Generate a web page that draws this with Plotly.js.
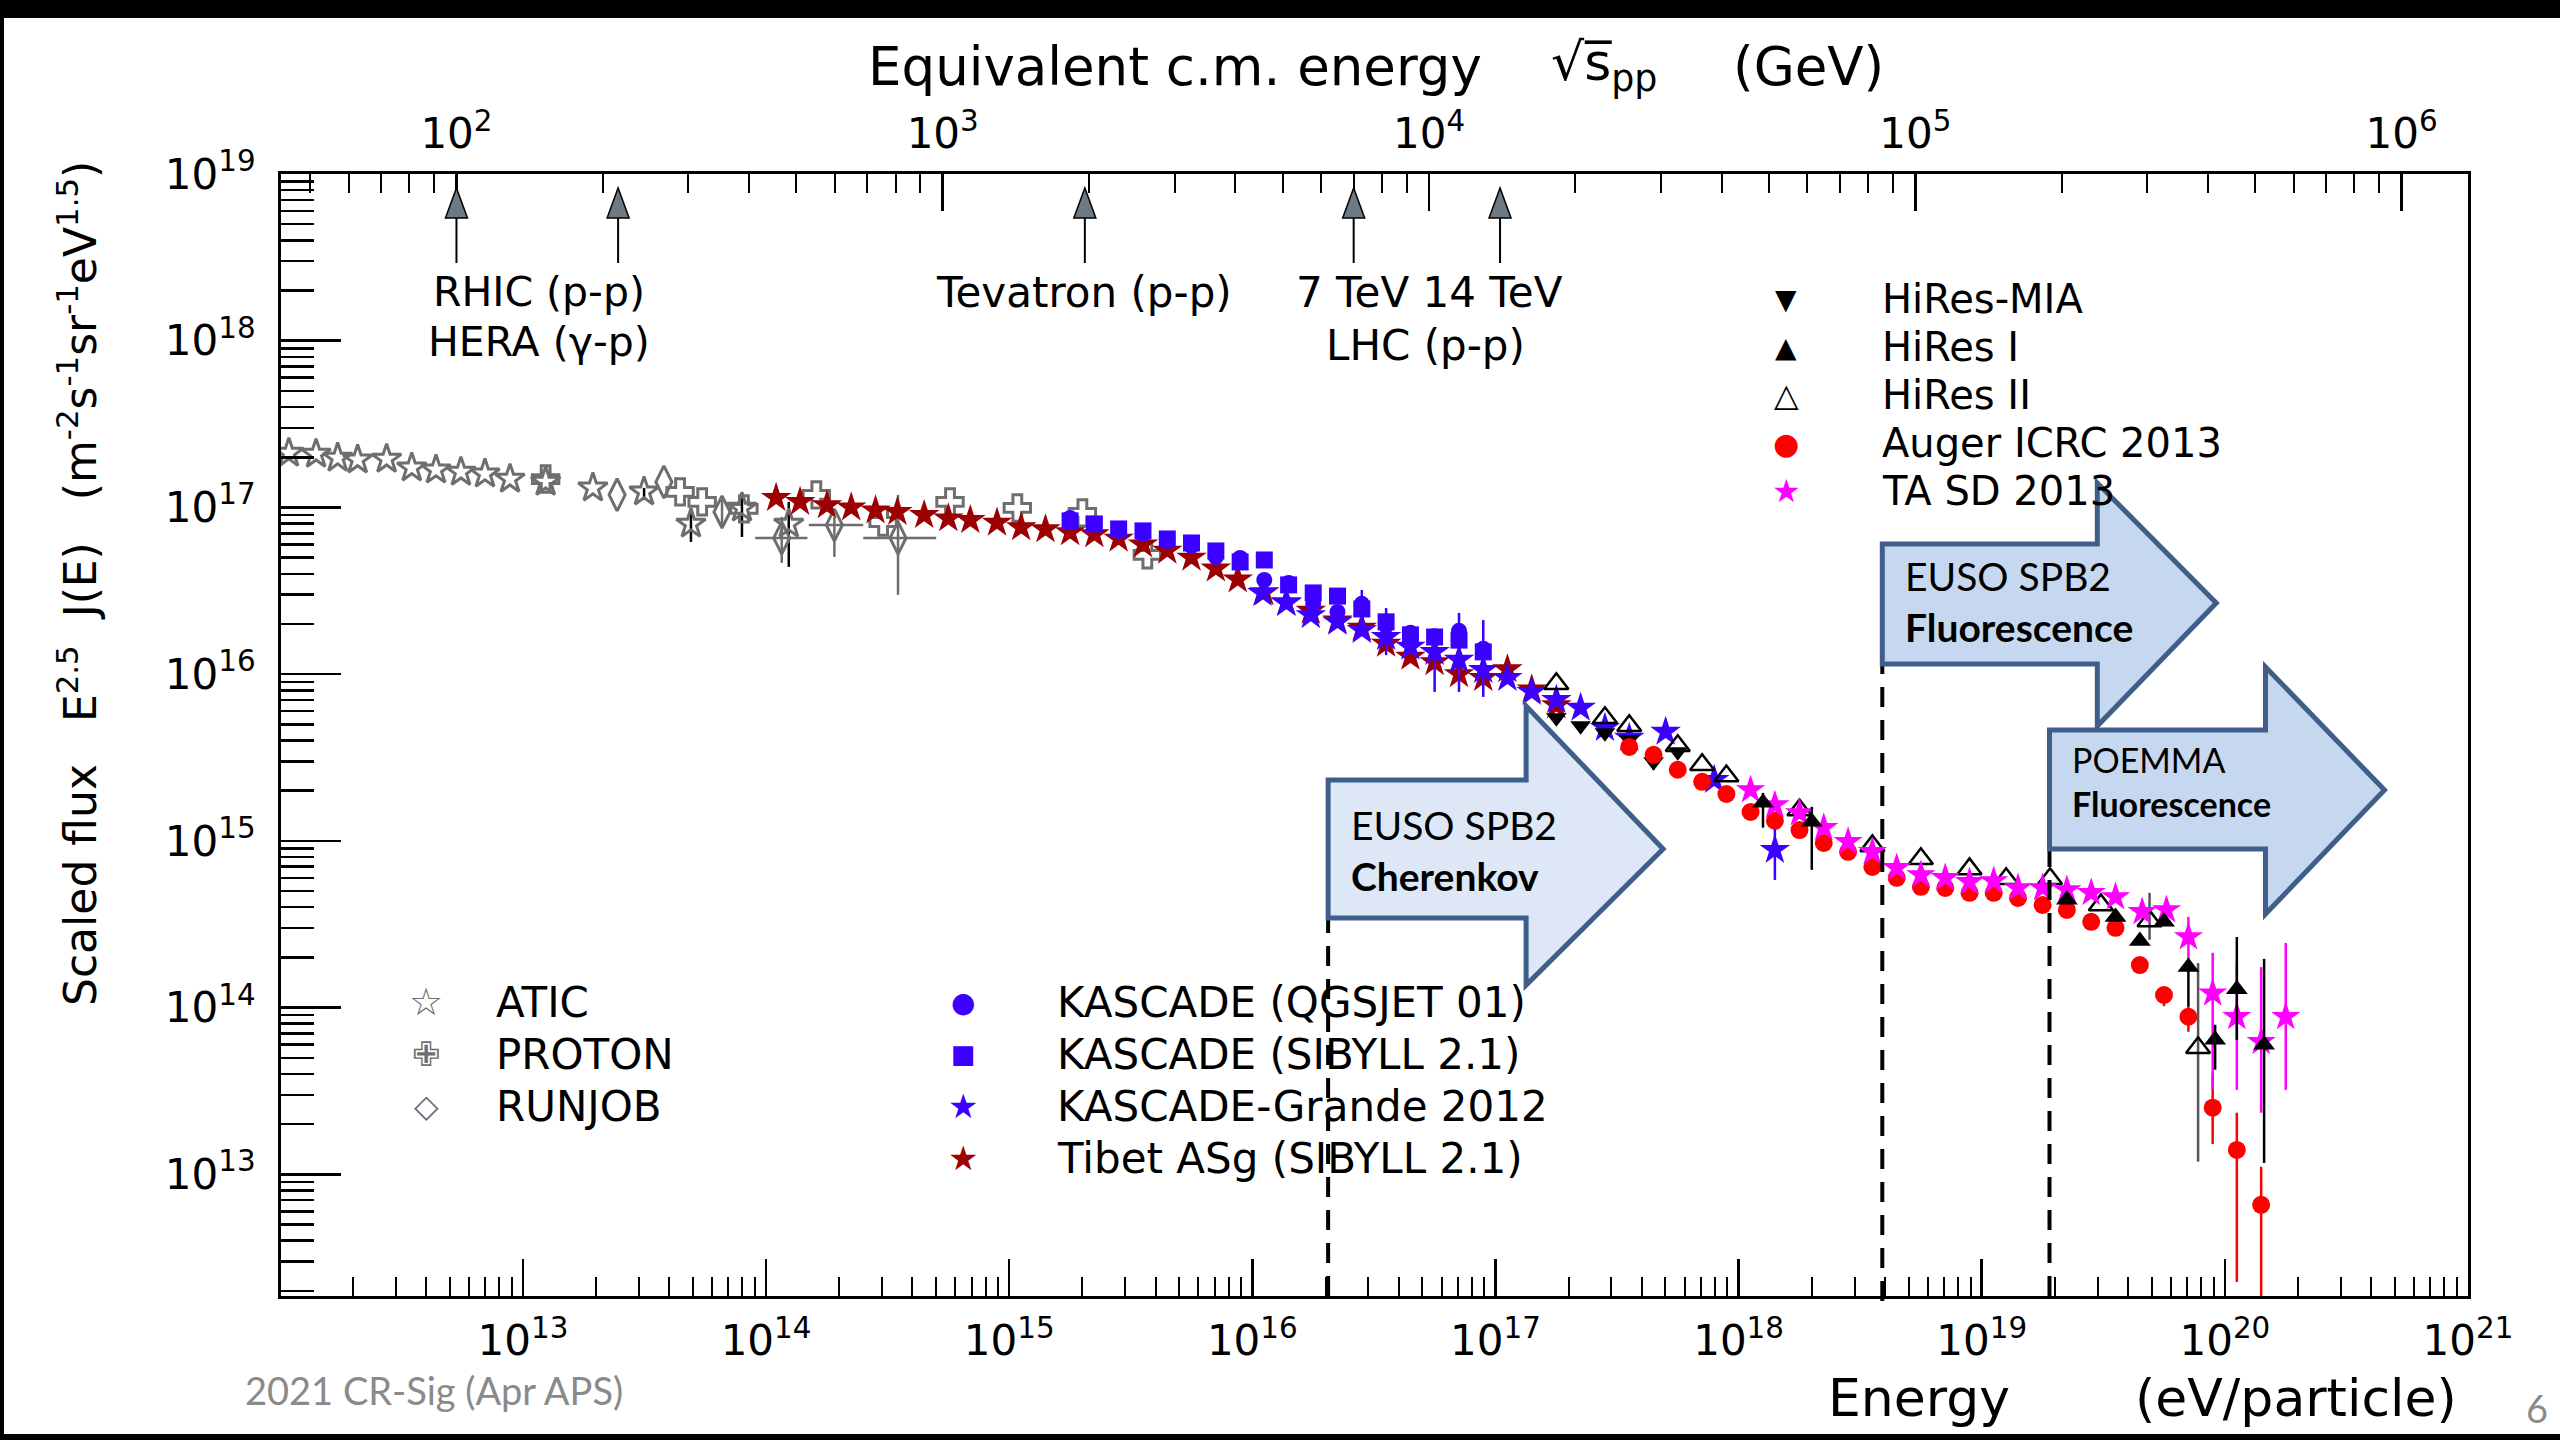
<!DOCTYPE html>
<html>
<head>
<meta charset="utf-8">
<script src="https://cdn.plot.ly/plotly-3.0.1.min.js"></script>
<style>
  html, body { margin: 0; padding: 0; background: #000; width: 2560px; height: 1440px; overflow: hidden; }
  #chart { position: absolute; left: 4px; top: 18px; width: 2556px; height: 1416px; background: #fff; }
</style>
</head>
<body>
<div id="chart"></div>
<script>
// ---------------- data: energy (eV/particle) and scaled flux E^2.5 J(E) ----------------
const aticE    = [1.09e12, 1.41e12, 1.73e12, 2.09e12, 2.75e12, 3.49e12, 4.39e12, 5.56e12, 6.98e12, 8.85e12, 1.24e13, 1.94e13, 3.15e13, 4.91e13, 7.96e13, 1.24e14];
const aticFlux = [2.12e17, 2.09e17, 1.98e17, 1.93e17, 1.95e17, 1.73e17, 1.68e17, 1.63e17, 1.59e17, 1.48e17, 1.42e17, 1.31e17, 1.24e17, 7.96e16, 9.93e16, 7.96e16];
const aticFluxHi = [null, null, null, null, null, null, null, null, null, null, null, null, 1.31e17, 9.93e16, 1.24e17, 1.08e17];
const aticFluxLo = [null, null, null, null, null, null, null, null, null, null, null, null, 1.11e17, 6.21e16, 6.65e16, 4.40e16];

const protonE    = [1.24e13, 4.43e13, 5.46e13, 8.11e13, 1.61e14, 3.03e14, 5.71e14, 1.08e15, 2.00e15, 3.70e15];
const protonFlux = [1.48e17, 1.24e17, 1.08e17, 9.80e16, 1.19e17, 8.18e16, 1.08e17, 9.93e16, 9.27e16, 5.19e16];

const runjobE      = [2.44e13, 3.80e13, 6.59e13, 1.16e14, 1.91e14, 3.49e14];
const runjobFlux   = [1.19e17, 1.42e17, 9.40e16, 6.56e16, 7.85e16, 6.56e16];
const runjobFluxHi = [null, null, 1.11e17, 8.77e16, 8.77e16, 1.19e17];
const runjobFluxLo = [null, null, 7.64e16, 4.65e16, 5.05e16, 2.99e16];
const runjobEHi    = [null, null, null, 1.48e14, 2.51e14, 5.01e14];
const runjobELo    = [null, null, null, 9.02e13, 1.50e14, 2.51e14];

const tibetE    = [1.10e14, 1.38e14, 1.78e14, 2.24e14, 2.82e14, 3.47e14, 4.47e14, 5.62e14, 6.92e14, 8.91e14,
                   1.12e15, 1.41e15, 1.78e15, 2.24e15, 2.82e15, 3.55e15, 4.47e15, 5.62e15, 7.08e15, 8.71e15,
                   1.12e16, 1.38e16, 1.74e16, 2.24e16, 2.82e16, 3.55e16, 4.47e16, 5.62e16, 7.08e16, 8.91e16,
                   1.12e17, 1.41e17, 1.78e17];
const tibetFlux = [1.14e17, 1.08e17, 1.03e17, 1.00e17, 9.6e16, 9.4e16, 9.0e16, 8.6e16, 8.4e16, 8.1e16,
                   7.6e16, 7.4e16, 7.1e16, 6.9e16, 6.5e16, 6.0e16, 5.5e16, 5.0e16, 4.3e16, 3.7e16,
                   3.1e16, 2.7e16, 2.4e16, 2.1e16, 1.9e16, 1.52e16, 1.27e16, 1.18e16, 1.00e16, 9.5e15,
                   1.07e16, 8.1e15, 6.5e15];

const kascadeE = [1.78e15, 2.24e15, 2.82e15, 3.55e15, 4.47e15, 5.62e15, 7.08e15, 8.91e15, 1.12e16,
                  1.41e16, 1.78e16, 2.24e16, 2.82e16, 3.55e16, 4.47e16, 5.62e16, 7.08e16, 8.91e16];
const kascadeQgsFlux = [8.65e16, 7.96e16, 7.23e16, 6.93e16, 6.30e16, 5.87e16, 5.05e16, 4.98e16, 3.67e16,
                        3.52e16, 2.64e16, 2.36e16, 2.64e16, 1.95e16, 1.77e16, 1.69e16, 1.82e16, 1.42e16];
const kascadeQgsHi = [null, null, null, null, null, null, null, null, null, null, null, null, 3.20e16, 2.49e16, null, null, 2.33e16, 2.11e16];
const kascadeQgsLo = [null, null, null, null, null, null, null, null, null, null, null, null, 2.11e16, 1.30e16, null, null, 7.83e15, 7.30e15];
const kascadeSibyllFlux = [8.30e16, 7.96e16, 7.43e16, 7.23e16, 6.47e16, 6.12e16, 5.48e16, 4.71e16, 4.84e16,
                           3.43e16, 3.07e16, 2.94e16, 2.46e16, 2.06e16, 1.72e16, 1.67e16, 1.60e16, 1.36e16];

const grandeE    = [1.10e16, 1.38e16, 1.74e16, 2.24e16, 2.82e16, 3.55e16, 4.47e16, 5.62e16, 7.08e16, 8.91e16,
                    1.12e17, 1.41e17, 1.78e17, 2.24e17, 2.82e17, 3.55e17, 5.01e17, 7.94e17, 1.41e18];
const grandeFlux = [3.07e16, 2.67e16, 2.26e16, 2.06e16, 1.84e16, 1.67e16, 1.46e16, 1.36e16, 1.22e16, 1.06e16,
                    9.49e15, 7.83e15, 7.01e15, 6.28e15, 4.76e15, 4.15e15, 4.51e15, 2.32e15, 8.83e14];
const grandeHi = [null, null, null, null, null, null, null, 1.30e16, null, null, null, null, null, null, null, null, null, null, 1.21e15];
const grandeLo = [null, null, null, null, null, null, null, 7.83e15, null, null, null, null, null, null, null, null, null, null, 5.83e14];

const hiresMiaE    = [1.78e17, 2.24e17, 2.82e17, 3.55e17, 4.47e17, 5.62e17];
const hiresMiaFlux = [5.47e15, 4.90e15, 4.45e15, 4.04e15, 2.98e15, 3.42e15];
const hiresMiaHi   = [null, null, null, null, 3.28e15, null];
const hiresMiaLo   = [null, null, null, null, 2.67e15, null];

const hires1E    = [1.26e18, 2.00e18, 2.24e19, 3.55e19, 4.47e19, 5.62e19, 7.08e19, 9.12e19, 1.12e20, 1.45e20];
const hires1Flux = [1.69e15, 1.30e15, 4.43e14, 3.50e14, 2.51e14, 3.27e14, 1.75e14, 6.41e13, 1.29e14, 5.98e13];
const hires1Hi   = [1.94e15, 1.60e15, null, null, null, null, 1.78e14, 7.89e13, 2.65e14, 1.96e14];
const hires1Lo   = [1.20e15, 6.70e14, null, null, null, null, 1.01e14, 4.24e13, 6.40e13, 1.17e13];

const hires2E    = [1.78e17, 2.82e17, 3.55e17, 5.62e17, 7.08e17, 8.91e17, 1.78e18, 3.55e18, 5.62e18, 8.91e18,
                    1.26e19, 1.91e19, 3.09e19, 4.90e19, 7.76e19];
const hires2Flux = [8.75e15, 5.47e15, 4.90e15, 3.72e15, 2.86e15, 2.45e15, 1.53e15, 9.33e14, 7.80e14, 6.79e14,
                    5.92e14, 5.92e14, 4.13e14, 3.31e14, 5.74e13];
const hires2Hi   = [null, null, null, null, null, null, null, null, null, null, null, null, null, 4.88e14, 1.85e14];
const hires2Lo   = [null, null, null, null, null, null, null, null, null, null, null, null, null, 2.55e14, 1.19e13];

const augerE    = [3.55e17, 4.47e17, 5.62e17, 7.08e17, 8.91e17, 1.12e18, 1.41e18, 1.78e18, 2.24e18, 2.82e18,
                   3.55e18, 4.47e18, 5.62e18, 7.08e18, 8.91e18, 1.12e19, 1.41e19, 1.78e19, 2.24e19, 2.82e19,
                   3.55e19, 4.47e19, 5.62e19, 7.08e19, 8.91e19, 1.12e20, 1.41e20];
const augerFlux = [3.66e15, 3.28e15, 2.67e15, 2.26e15, 1.91e15, 1.49e15, 1.32e15, 1.16e15, 9.72e14, 8.59e14,
                   6.98e14, 6.00e14, 5.30e14, 5.22e14, 4.88e14, 4.88e14, 4.55e14, 4.13e14, 3.85e14, 3.27e14,
                   3.01e14, 1.80e14, 1.19e14, 8.81e13, 2.51e13, 1.40e13, 6.56e12];
const augerHi   = [null, null, null, null, null, null, null, null, null, null, null, null, null, null, null, null, null, null, null, null,
                   null, null, 1.33e14, 1.01e14, 4.06e13, 2.34e13, 1.11e13];
const augerLo   = [null, null, null, null, null, null, null, null, null, null, null, null, null, null, null, null, null, null, null, null,
                   null, null, 1.02e14, 7.16e13, 1.52e13, 2.26e12, 1.0e12];

const taE    = [1.12e18, 1.41e18, 1.78e18, 2.24e18, 2.82e18, 3.55e18, 4.47e18, 5.62e18, 7.08e18, 8.91e18,
                1.12e19, 1.41e19, 1.78e19, 2.24e19, 2.82e19, 3.55e19, 4.57e19, 5.75e19, 7.08e19, 8.91e19,
                1.12e20, 1.41e20, 1.78e20];
const taFlux = [2.02e15, 1.64e15, 1.47e15, 1.20e15, 9.89e14, 8.59e14, 6.89e14, 6.25e14, 6.00e14, 5.68e14,
                5.75e14, 5.22e14, 5.22e14, 5.08e14, 4.88e14, 4.61e14, 3.75e14, 3.85e14, 2.65e14, 1.22e14,
                8.81e13, 6.24e13, 8.81e13];
const taHi   = [null, null, null, null, null, null, null, null, null, null, null, null, null, null, null, null, null, null,
                3.50e14, 2.13e14, 1.85e14, 1.75e14, 2.44e14];
const taLo   = [null, null, null, null, null, null, null, null, null, null, null, null, null, null, null, null, null, null,
                1.93e14, 3.21e13, 3.21e13, 2.34e13, 3.21e13];

// collider reach in equivalent c.m. energy (GeV)
const colliderSqrtS = [100, 215, 1960, 7000, 14000];
// instrument thresholds (eV)
const thresholdE = {cherenkov: 2.05e16, spb2Fluor: 3.9e18, poemma: 1.9e19};

// tick labels
const energyTickExp = [13, 14, 15, 16, 17, 18, 19, 20, 21];
const fluxTickExp   = [13, 14, 15, 16, 17, 18, 19];
const sqrtsTickExp  = [2, 3, 4, 5, 6];

// ---------------- geometry (page pixels) ----------------
const DIV_X = 4, DIV_Y = 18, DIV_W = 2556, DIV_H = 1416;
const PL = 281, PR = 2468, PT = 174, PB = 1296;
const fx = px => (px - PL) / (PR - PL);
const fy = py => (PB - py) / (PB - PT);

const PROTON_MASS_GEV = 0.938272;
const xRange = [12.005, 21.0];
const yRange = [12.27, 19.0];
const sqrtsOfLogE = L => 0.5 * (L - 9 + Math.log10(2 * PROTON_MASS_GEV));
const topRange = xRange.map(sqrtsOfLogE);

const sup = n => '10<sup>' + n + '</sup>';
function minorVals(lo, hi) {
  const out = [];
  for (let d = Math.floor(lo); d <= Math.ceil(hi); d++) {
    for (let k = 2; k <= 9; k++) {
      const v = k * Math.pow(10, d);
      const l = Math.log10(v);
      if (l > lo && l < hi) out.push(v);
    }
  }
  return out;
}

// ---------------- fonts ----------------
function hasFont(name) {
  const c = document.createElement('canvas').getContext('2d');
  const s = 'Scaled flux E J(E) 0123456789';
  c.font = '50px monospace';
  const a = c.measureText(s).width;
  c.font = '50px "' + name + '", monospace';
  return Math.abs(c.measureText(s).width - a) > 0.5;
}
const SANS = 'DejaVu Sans';
const narrowOK = hasFont('Liberation Sans Narrow');
const YTITLE_FONT = narrowOK ? {family: 'Liberation Sans Narrow', size: 59} : {family: 'DejaVu Sans', size: 44};
const SLIDE = 'Lato, "Open Sans", sans-serif';

// ---------------- colours ----------------
const C = {grey: '#6e6e6e', blue: '#3b00ff', tibet: '#9c0000', auger: '#ff0000', ta: '#ff00ff', black: '#000000'};

// ---------------- traces ----------------
function errArr(vals, hi, lo, color) {
  return {
    type: 'data', symmetric: false, visible: true,
    array: vals.map((v, i) => hi[i] == null ? 0 : hi[i] - v),
    arrayminus: vals.map((v, i) => lo[i] == null ? 0 : v - lo[i]),
    color: color, thickness: 2.5, width: 0
  };
}
function series(name, E, F, symbol, size, color, extra, lineW) {
  const open = symbol.endsWith('-open');
  return Object.assign({
    type: 'scatter', mode: 'markers', name: name, x: E, y: F, showlegend: false,
    marker: {symbol: symbol, size: size, color: color,
             line: {width: open ? (lineW || 3) : 0, color: color}},
    cliponaxis: true, hoverinfo: 'skip'
  }, extra || {});
}

const traces = [
  series('ATIC', aticE, aticFlux, 'star-open', 22, C.grey,
         {error_y: errArr(aticFlux, aticFluxHi, aticFluxLo, C.black)}),
  series('RUNJOB', runjobE, runjobFlux, 'diamond-tall-open', 23, C.grey,
         {error_y: errArr(runjobFlux, runjobFluxHi, runjobFluxLo, C.grey),
          error_x: errArr(runjobE, runjobEHi, runjobELo, C.grey)}),
  series('PROTON', protonE, protonFlux, 'cross-open', 22, C.grey),
  series('Tibet ASg (SIBYLL 2.1)', tibetE, tibetFlux, 'star', 23, C.tibet),
  series('KASCADE (SIBYLL 2.1)', kascadeE, kascadeSibyllFlux, 'square', 17, C.blue),
  series('KASCADE (QGSJET 01)', kascadeE, kascadeQgsFlux, 'circle', 16, C.blue,
         {error_y: errArr(kascadeQgsFlux, kascadeQgsHi, kascadeQgsLo, C.blue)}),
  series('KASCADE-Grande 2012', grandeE, grandeFlux, 'star', 23, C.blue,
         {error_y: errArr(grandeFlux, grandeHi, grandeLo, C.blue)}),
  series('HiRes-MIA', hiresMiaE, hiresMiaFlux, 'triangle-down', 18, C.black,
         {error_y: errArr(hiresMiaFlux, hiresMiaHi, hiresMiaLo, C.black)}),
  series('Auger ICRC 2013', augerE, augerFlux, 'circle', 18, C.auger,
         {error_y: errArr(augerFlux, augerHi, augerLo, C.auger)}),
  series('HiRes II', hires2E, hires2Flux, 'triangle-up-open', 21, C.black,
         {error_y: errArr(hires2Flux, hires2Hi, hires2Lo, '#555555')}, 2.5),
  series('TA SD 2013', taE, taFlux, 'star', 22, C.ta,
         {error_y: errArr(taFlux, taHi, taLo, C.ta)}),
  series('HiRes I', hires1E, hires1Flux, 'triangle-up', 19, C.black,
         {error_y: errArr(hires1Flux, hires1Hi, hires1Lo, C.black)})
];

// ---------------- shapes ----------------
const shapes = [];

// dashed threshold markers, drawn from the energy axis up to the arrow boxes
const dash = {color: '#000', width: 4, dash: '20px,13px'};
[[thresholdE.cherenkov, 1296, 918], [thresholdE.spb2Fluor, 1301, 664], [thresholdE.poemma, 1296, 849]]
  .forEach(([e, yb, yt]) => shapes.push({type: 'line', xref: 'x', yref: 'paper', x0: e, x1: e,
    y0: fy(yb), y1: fy(yt), line: dash, layer: 'above'}));

// block arrows anchored at each threshold (path in pixels, y up)
function blockArrow(e, bottomPx, bodyH, bodyW, headUp, headDown, tipX, tipY, fill) {
  const p = `M0,0 L0,${bodyH} L${bodyW},${bodyH} L${bodyW},${headUp} L${tipX},${tipY} L${bodyW},${-headDown} L${bodyW},0 Z`;
  return {type: 'path', xref: 'x', yref: 'paper', xsizemode: 'pixel', ysizemode: 'pixel',
          xanchor: e, yanchor: fy(bottomPx), path: p, fillcolor: fill,
          line: {color: '#3f5f8a', width: 5}, layer: 'above'};
}
shapes.push(blockArrow(thresholdE.cherenkov, 918, 138, 198, 212, 67, 335, 69, '#dde7f5'));
shapes.push(blockArrow(thresholdE.spb2Fluor, 664, 120, 215, 181, 62, 334, 61, '#c6d8ef'));
shapes.push(blockArrow(thresholdE.poemma, 849, 119, 216, 182, 65, 335, 59, '#c6d8ef'));

// collider arrows on the top axis
colliderSqrtS.forEach(s => {
  shapes.push({type: 'line', xref: 'x2', yref: 'paper', x0: s, x1: s, y0: fy(263), y1: fy(218),
               line: {color: '#000', width: 2}});
  shapes.push({type: 'path', xref: 'x2', yref: 'paper', xsizemode: 'pixel', ysizemode: 'pixel',
               xanchor: s, yanchor: fy(218), path: 'M-11,0 L11,0 L0,30 Z',
               fillcolor: '#6d7983', line: {color: '#000', width: 1.5}});
});

// ---------------- annotations ----------------
const annotations = [];
function txt(text, px, py, size, opts) {
  annotations.push(Object.assign({
    xref: 'paper', yref: 'paper', x: fx(px), y: fy(py), text: text, showarrow: false,
    xanchor: 'center', yanchor: 'middle', font: {family: SANS, size: size, color: '#000'}
  }, opts || {}));
}

// axis titles
txt('Equivalent c.m. energy', 1175, 66, 53);
txt('√s̅<sub>pp</sub>', 1604, 66, 52);
txt('(GeV)', 1808, 66, 53);
txt('Energy', 1919, 1398, 52);
txt('(eV/particle)', 2296, 1398, 52);
annotations.push({xref: 'paper', yref: 'paper', x: fx(77), y: fy(584), showarrow: false, textangle: -90,
  xanchor: 'center', yanchor: 'middle', font: Object.assign({color: '#000'}, YTITLE_FONT),
  text: 'Scaled flux&nbsp;&nbsp;&nbsp;E<sup>2.5</sup>&nbsp;&nbsp;J(E)&nbsp;&nbsp;&nbsp;(m<sup>-2</sup>s<sup>-1</sup>sr<sup>-1</sup>eV<sup>1.5</sup>)'});

// collider labels
txt('RHIC (p-p)', 539, 292, 41);
txt('HERA (γ-p)', 539, 342, 41);
txt('Tevatron (p-p)', 1084, 292, 42);
txt('7 TeV 14 TeV', 1429, 292, 42);
txt('LHC (p-p)', 1425, 345, 42);

// key: ultra-high-energy experiments
const keyHigh = [
  ['▼', C.black, 28, 'HiRes-MIA', 299],
  ['▲', C.black, 28, 'HiRes I', 347],
  ['△', C.black, 32, 'HiRes II', 395],
  ['●', C.auger, 30, 'Auger ICRC 2013', 443],
  ['★', C.ta, 32, 'TA SD 2013', 491]
];
keyHigh.forEach(([g, col, gs, label, py]) => {
  txt(g, 1786, py, gs, {font: {family: SANS, size: gs, color: col}});
  txt(label, 1880, py, 40, {xanchor: 'left'});
});
// key: direct and knee-region experiments
const keyLow = [
  ['☆', C.grey, 38, 'ATIC', 426, 494, 1002],
  ['✙', C.grey, 34, 'PROTON', 426, 494, 1054],
  ['◇', C.grey, 32, 'RUNJOB', 426, 494, 1106],
  ['●', C.blue, 28, 'KASCADE (QGSJET 01)', 963, 1055, 1002],
  ['■', C.blue, 26, 'KASCADE (SIBYLL 2.1)', 963, 1055, 1054],
  ['★', C.blue, 34, 'KASCADE-Grande 2012', 963, 1055, 1106],
  ['★', C.tibet, 34, 'Tibet ASg (SIBYLL 2.1)', 963, 1055, 1158]
];
keyLow.forEach(([g, col, gs, label, gx, tx, py]) => {
  txt(g, gx, py, gs, {font: {family: SANS, size: gs, color: col}});
  txt(label, tx, py, 42, {xanchor: 'left'});
});

// arrow box captions
txt('EUSO SPB2<br><b>Cherenkov</b>', 1349, 850, 39, {xanchor: 'left', align: 'left', font: {family: SLIDE, size: 39, color: '#000'}});
txt('EUSO SPB2<br><b>Fluorescence</b>', 1903, 601, 39, {xanchor: 'left', align: 'left', font: {family: SLIDE, size: 39, color: '#000'}});
txt('POEMMA<br><b>Fluorescence</b>', 2070, 781, 34, {xanchor: 'left', align: 'left', font: {family: SLIDE, size: 34, color: '#000'}});

// slide footer
txt('2021 CR-Sig (Apr APS)', 243, 1390, 38, {xanchor: 'left', font: {family: SLIDE, size: 38, color: '#8a8a8a'}});
txt('6', 2537, 1408, 38, {font: {family: SLIDE, size: 38, color: '#8a8a8a'}});

// ---------------- axes ----------------
const tickFont = {family: SANS, size: 42, color: '#000'};
const baseAxis = {
  type: 'log', showgrid: false, zeroline: false, showline: true, linecolor: '#000', linewidth: 3,
  ticks: 'inside', tickcolor: '#000', tickwidth: 2.5, tickfont: tickFont, tickmode: 'array'
};

const layout = {
  width: DIV_W, height: DIV_H,
  margin: {l: PL - DIV_X, r: DIV_W - (PR - DIV_X), t: PT - DIV_Y, b: DIV_H - (PB - DIV_Y), pad: 0},
  paper_bgcolor: '#fff', plot_bgcolor: '#fff',
  font: {family: SANS, color: '#000'},
  showlegend: false, hovermode: false,
  xaxis: Object.assign({}, baseAxis, {
    range: xRange, mirror: true, ticklen: 37,
    tickvals: energyTickExp.map(n => Math.pow(10, n)), ticktext: energyTickExp.map(sup),
    ticklabelstandoff: 6,
    minor: {tickmode: 'array', tickvals: minorVals(xRange[0], xRange[1]), ticks: 'inside', ticklen: 19,
            tickwidth: 2, tickcolor: '#000', showgrid: false}
  }),
  xaxis2: Object.assign({}, baseAxis, {
    range: topRange, overlaying: 'x', side: 'top', anchor: 'y', ticklen: 37,
    tickvals: sqrtsTickExp.map(n => Math.pow(10, n)), ticktext: sqrtsTickExp.map(sup),
    ticklabelstandoff: 6,
    minor: {tickmode: 'array', tickvals: minorVals(topRange[0], topRange[1]), ticks: 'inside', ticklen: 19,
            tickwidth: 2, tickcolor: '#000', showgrid: false}
  }),
  yaxis: Object.assign({}, baseAxis, {
    range: yRange, mirror: true, ticklen: 60,
    tickvals: fluxTickExp.map(n => Math.pow(10, n)), ticktext: fluxTickExp.map(sup),
    ticklabelstandoff: 14,
    minor: {tickmode: 'array', tickvals: minorVals(yRange[0], yRange[1]), ticks: 'inside', ticklen: 33,
            tickwidth: 2.5, tickcolor: '#000', showgrid: false}
  }),
  shapes: shapes,
  annotations: annotations
};

Plotly.newPlot('chart', traces, layout, {staticPlot: true, displayModeBar: false});
</script>
</body>
</html>
